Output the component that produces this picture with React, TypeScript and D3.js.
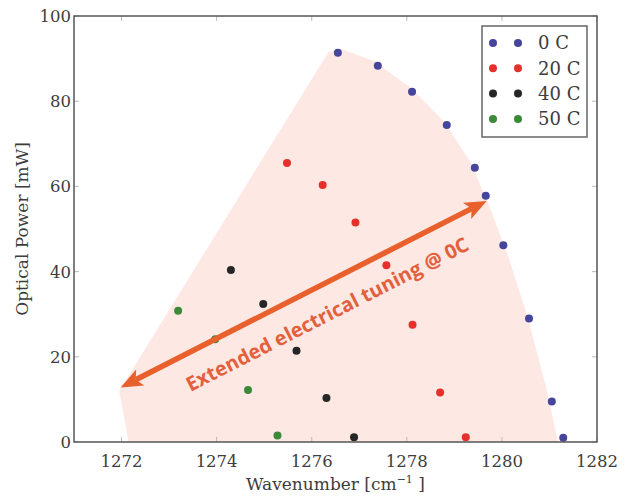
import React from "react";
import * as d3 from "d3";

// ---- data ----
const seriesLabels = ["0 C", "20 C", "40 C", "50 C"];
const seriesColors = ["#45459b", "#e5302b", "#262626", "#3a8a38"];

const wn0 = [1276.55, 1277.39, 1278.11, 1278.84, 1279.43, 1279.66, 1280.03, 1280.57, 1281.05, 1281.29];
const p0 = [91.4, 88.3, 82.2, 74.4, 64.4, 57.8, 46.2, 29.0, 9.5, 1.0];
const wn20 = [1275.48, 1276.23, 1276.92, 1277.57, 1278.12, 1278.7, 1279.24];
const p20 = [65.5, 60.3, 51.5, 41.5, 27.5, 11.6, 1.1];
const wn40 = [1274.3, 1274.98, 1275.68, 1276.31, 1276.89];
const p40 = [40.4, 32.4, 21.4, 10.3, 1.1];
const wn50 = [1273.19, 1273.97, 1274.66, 1275.28];
const p50 = [30.8, 24.1, 12.2, 1.5];

const xTicks = [1272, 1274, 1276, 1278, 1280, 1282];
const yTicks = [0, 20, 40, 60, 80, 100];

// shaded tuning region boundary
const regionWn = [1272.15, 1271.95, 1276.35, 1276.6, 1277.3, 1278.1, 1278.8, 1279.35, 1279.75, 1280.15, 1280.55, 1280.95, 1281.18];
const regionP = [0, 12, 91.5, 92.3, 89.5, 83, 75, 65.5, 55, 43, 29, 12, 0];

// arrow (tail, head) in data units
const arrowWn = [1271.98, 1279.68];
const arrowP = [12.8, 56.6];
const arrowText = "Extended electrical tuning @ 0C";

const W = 634;
const H = 496;
const plot = { left: 74, right: 597, top: 16, bottom: 442 };

export default function App() {
  const x = d3.scaleLinear().domain([1271, 1282]).range([plot.left, plot.right]);
  const y = d3.scaleLinear().domain([0, 100]).range([plot.bottom, plot.top]);

  const series = [
    { wn: wn0, p: p0 },
    { wn: wn20, p: p20 },
    { wn: wn40, p: p40 },
    { wn: wn50, p: p50 },
  ];

  const regionPts: [number, number][] = regionWn.map((w, i) => [x(w), y(regionP[i])]);
  const regionPath = d3.line().curve(d3.curveLinear)(regionPts) + "Z";

  // arrow geometry
  const ax0 = x(arrowWn[0]), ay0 = y(arrowP[0]);
  const ax1 = x(arrowWn[1]), ay1 = y(arrowP[1]);
  const dx = ax1 - ax0, dy = ay1 - ay0;
  const len = Math.hypot(dx, dy);
  const ux = dx / len, uy = dy / len;
  const nx = -uy, ny = ux;
  const headL = 22, headW = 9, notch = 5;
  const head = (tx: number, ty: number, dir: number) => {
    const bx = tx - dir * ux * headL, by = ty - dir * uy * headL;
    const mx = tx - dir * ux * (headL - notch), my = ty - dir * uy * (headL - notch);
    return `M${tx},${ty} L${bx + nx * headW},${by + ny * headW} L${mx},${my} L${bx - nx * headW},${by - ny * headW} Z`;
  };
  const angle = (Math.atan2(dy, dx) * 180) / Math.PI;

  const font = "'DejaVu Serif', serif";
  const textColor = "#3d3d3d";

  const legend = { x: 482, y: 26, w: 105, h: 111 };

  return (
    <svg width={W} height={H} style={{ position: "absolute", left: 0, top: 0, background: "#fff" }}>
      <path d={regionPath} fill="#fde8e4" stroke="none" />

      {/* frame ticks */}
      {xTicks.map((t) => (
        <g key={"xt" + t}>
          <line x1={x(t)} x2={x(t)} y1={plot.bottom} y2={plot.bottom - 5} stroke="#bbb" strokeWidth={1} />
          <line x1={x(t)} x2={x(t)} y1={plot.top} y2={plot.top + 5} stroke="#bbb" strokeWidth={1} />
          <text x={x(t)} y={467} textAnchor="middle" fontFamily={font} fontSize={16.5} fill={textColor}>
            {t}
          </text>
        </g>
      ))}
      {yTicks.map((t) => (
        <g key={"yt" + t}>
          <line x1={plot.left} x2={plot.left + 5} y1={y(t)} y2={y(t)} stroke="#bbb" strokeWidth={1} />
          <line x1={plot.right} x2={plot.right - 5} y1={y(t)} y2={y(t)} stroke="#bbb" strokeWidth={1} />
          <text x={71} y={y(t)} dy="0.36em" textAnchor="end" fontFamily={font} fontSize={16.5} fill={textColor}>
            {t}
          </text>
        </g>
      ))}

      {/* points */}
      {series.map((s, si) =>
        s.wn.map((w, i) => (
          <circle key={si + "-" + i} cx={x(w)} cy={y(s.p[i])} r={4} fill={seriesColors[si]} />
        ))
      )}

      {/* arrow */}
      <line
        x1={ax0 + ux * (headL - notch)}
        y1={ay0 + uy * (headL - notch)}
        x2={ax1 - ux * (headL - notch)}
        y2={ay1 - uy * (headL - notch)}
        stroke="#e8612c"
        strokeWidth={5.5}
      />
      <path d={head(ax1, ay1, 1)} fill="#e8612c" />
      <path d={head(ax0, ay0, -1)} fill="#e8612c" />
      <text
        transform={`translate(${327},${314}) rotate(${angle})`}
        textAnchor="middle"
        dominantBaseline="central"
        fontFamily="'Open Sans', sans-serif"
        fontWeight={700}
        fontSize={20}
        fill="#e3603c"
      >
        {arrowText}
      </text>

      {/* frame */}
      <rect
        x={plot.left}
        y={plot.top}
        width={plot.right - plot.left}
        height={plot.bottom - plot.top}
        fill="none"
        stroke="#555"
        strokeWidth={1.5}
      />

      {/* legend */}
      <rect x={legend.x} y={legend.y} width={legend.w} height={legend.h} fill="#fff" stroke="#666" strokeWidth={1.5} />
      {seriesLabels.map((lab, i) => {
        const ly = 43 + i * 25.3;
        return (
          <g key={lab}>
            <circle cx={493} cy={ly} r={4} fill={seriesColors[i]} />
            <circle cx={518} cy={ly} r={4} fill={seriesColors[i]} />
            <text x={538} y={ly} dy="0.36em" fontFamily={font} fontSize={18} fill={textColor}>
              {lab}
            </text>
          </g>
        );
      })}

      {/* axis labels */}
      <text x={(plot.left + plot.right) / 2} y={490} textAnchor="middle" fontFamily={font} fontSize={17} fill={textColor}>
        Wavenumber [cm
        <tspan fontSize={11} dy={-7}>−1</tspan>
        <tspan dy={7}> ]</tspan>
      </text>
      <text
        transform={`translate(22,${(plot.top + plot.bottom) / 2}) rotate(-90)`}
        textAnchor="middle"
        fontFamily={font}
        fontSize={17}
        fill={textColor}
        dy="0.36em"
      >
        Optical Power [mW]
      </text>
    </svg>
  );
}
